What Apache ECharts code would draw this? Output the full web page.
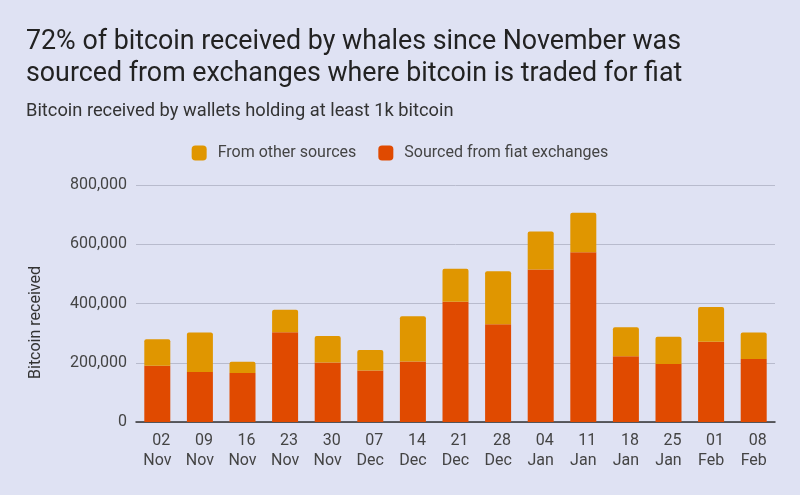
<!DOCTYPE html>
<html>
<head>
<meta charset="utf-8">
<script src="https://cdn.jsdelivr.net/npm/echarts@6/dist/echarts.min.js"></script>
<style>
  html, body { margin: 0; padding: 0; background: #dfe2f3; }
  #chart { width: 800px; height: 495px; }
</style>
</head>
<body>
<div id="chart"></div>
<script>
const weeks = ['02\nNov', '09\nNov', '16\nNov', '23\nNov', '30\nNov', '07\nDec', '14\nDec',
  '21\nDec', '28\nDec', '04\nJan', '11\nJan', '18\nJan', '25\nJan', '01\nFeb', '08\nFeb'];
const fromFiat = [190000, 169000, 165000, 303000, 201000, 174000, 204000,
  406000, 330000, 515000, 573000, 222000, 196000, 271000, 213000];
const fromOther = [89000, 133000, 38000, 76000, 89000, 69000, 153000,
  111000, 179000, 128000, 133000, 98000, 92000, 117000, 89000];

const chart = echarts.init(document.getElementById('chart'));
const font = 'Roboto, sans-serif';

chart.setOption({
  backgroundColor: '#dfe2f3',
  textStyle: { fontFamily: font },
  title: [{
    text: '72% of bitcoin received by whales since November was\nsourced from exchanges where bitcoin is traded for fiat',
    left: 21,
    top: 22,
    textStyle: { fontFamily: font, fontSize: 26.8, fontWeight: 'normal', color: '#222', lineHeight: 31.5 },
  }, {
    text: 'Bitcoin received by wallets holding at least 1k bitcoin',
    left: 21,
    top: 97,
    textStyle: { fontFamily: font, fontSize: 18.3, fontWeight: 'normal', color: '#333' },
  }],
  legend: {
    left: 'center',
    top: 140,
    icon: 'roundRect',
    itemWidth: 15,
    itemHeight: 15,
    itemGap: 22,
    textStyle: { fontFamily: font, fontSize: 16, color: '#444', padding: [0, 0, 0, 6] },
    data: ['From other sources', 'Sourced from fiat exchanges'],
  },
  grid: { left: 136, right: 25, top: 185, bottom: 73 },
  xAxis: {
    type: 'category',
    data: weeks,
    axisTick: { show: false },
    axisLine: { lineStyle: { color: '#333', width: 1.5 } },
    axisLabel: {
      interval: 0,
      hideOverlap: false,
      fontFamily: font, fontSize: 16, color: '#444', lineHeight: 20, margin: 9,
      formatter: v => {
        const [day, month] = v.split('\n');
        return '{d|' + day + '}\n' + month;
      },
      rich: { d: { fontFamily: font, fontSize: 16, color: '#444', padding: [0, 0, 0, 8] } },
    },
  },
  yAxis: {
    type: 'value',
    min: 0,
    max: 800000,
    interval: 200000,
    name: 'Bitcoin received',
    nameLocation: 'middle',
    nameGap: 92,
    nameTextStyle: { fontFamily: font, fontSize: 16, color: '#333', padding: [0, 38, 0, 0] },
    axisLabel: {
      fontFamily: font, fontSize: 16, color: '#444', margin: 9,
      formatter: v => v.toLocaleString('en-US'),
    },
    splitLine: { lineStyle: { color: '#b8bbcd', width: 1 } },
  },
  series: [{
    name: 'Sourced from fiat exchanges',
    type: 'bar',
    stack: 'total',
    data: fromFiat,
    barWidth: 26,
    itemStyle: { color: '#e04a00' },
  }, {
    name: 'From other sources',
    type: 'bar',
    stack: 'total',
    data: fromOther,
    barWidth: 26,
    itemStyle: { color: '#e09600', borderRadius: [2, 2, 0, 0] },
  }],
});
</script>
</body>
</html>
